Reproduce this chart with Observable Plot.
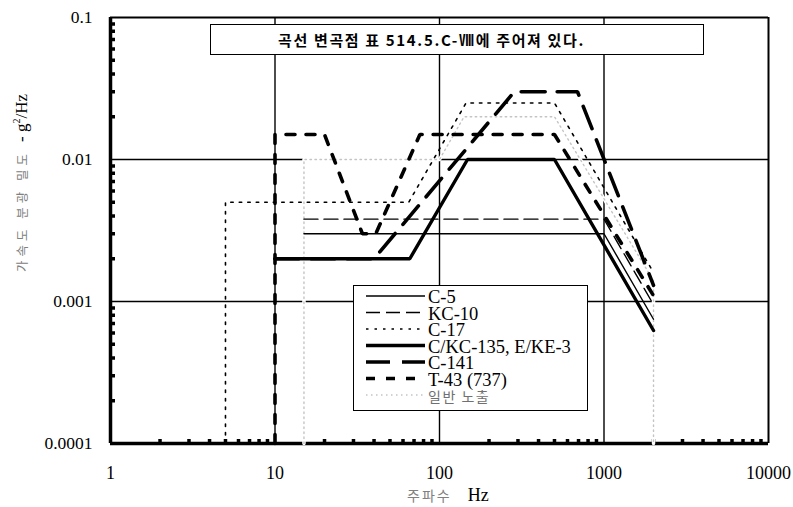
<!DOCTYPE html>
<html>
<head>
<meta charset="utf-8">
<script src="https://cdn.jsdelivr.net/npm/d3@7"></script>
<script src="https://cdn.jsdelivr.net/npm/@observablehq/plot@0.6"></script>
<style>
  body { margin: 0; background: #fff; }
  #wrap { position: relative; width: 793px; height: 507px; overflow: hidden; background: #fff; }
  #note {
    position: absolute; left: 210px; top: 24px; width: 494px; height: 31px;
    border: 1.5px solid #000; background: #fff;
    font-family: "Noto Sans CJK KR", sans-serif; font-weight: 700; font-size: 15px;
    line-height: 30px; padding-left: 67px; box-sizing: border-box; letter-spacing: 1.65px;
    white-space: nowrap;
  }
  #legend {
    position: absolute; left: 353px; top: 285px; width: 235px; height: 126px;
    border: 1.5px solid #000; background: #fff; box-sizing: border-box;
  }
</style>
</head>
<body>
<div id="wrap"></div>
<script>
// Axis ticks and labels
const xTicks = [1, 10, 100, 1000, 10000];
const yTicks = [0.0001, 0.001, 0.01, 0.1];
const xGrid = [10, 100, 1000];
const yGrid = [0.001, 0.01];

// Breakpoints of each vibration spectrum (frequency in Hz, PSD in g²/Hz)
const c5Hz = [15, 1000, 2000];
const c5Psd = [0.003, 0.003, 0.00075];

const kc10Hz = [15, 1000, 2000];
const kc10Psd = [0.0038, 0.0038, 0.00095];

const c17Hz = [5, 5, 65, 145, 500, 2000];
const c17Psd = [0.0001, 0.005, 0.005, 0.025, 0.025, 0.0016];

const kc135Hz = [10, 66, 148, 500, 2000];
const kc135Psd = [0.002, 0.002, 0.01, 0.01, 0.000625];

const c141Hz = [10, 40, 285, 690, 2000];
const c141Psd = [0.002, 0.002, 0.03, 0.03, 0.0013];

const t43Hz = [10, 10, 20, 34, 41, 76, 500, 2000];
const t43Psd = [0.0001, 0.015, 0.015, 0.003, 0.003, 0.015, 0.015, 0.0011];

const generalHz = [15, 15, 100, 141, 500, 2000, 2000];
const generalPsd = [0.0001, 0.01, 0.01, 0.02, 0.02, 0.0014, 0.0001];

const seriesNames = ["C-5", "KC-10", "C-17", "C/KC-135, E/KE-3", "C-141", "T-43 (737)", "일반 노출"];

const toRows = (hz, psd) => hz.map((f, i) => ({f, p: psd[i]}));

// Line styles per series
const styles = {
  "C-5":              {stroke: "#000", strokeWidth: 1.4},
  "KC-10":            {stroke: "#000", strokeWidth: 1.4, strokeDasharray: "14,6"},
  "C-17":             {stroke: "#000", strokeWidth: 1.6, strokeDasharray: "2.5,6"},
  "C/KC-135, E/KE-3": {stroke: "#000", strokeWidth: 3.4},
  "C-141":            {stroke: "#000", strokeWidth: 3.6, strokeDasharray: "24,12"},
  "T-43 (737)":       {stroke: "#000", strokeWidth: 3.6, strokeDasharray: "9,11"},
  "일반 노출":          {stroke: "#c4c4c4", strokeWidth: 1.4, strokeDasharray: "1.5,3.5"}
};

const seriesRows = {
  "C-5": toRows(c5Hz, c5Psd),
  "KC-10": toRows(kc10Hz, kc10Psd),
  "C-17": toRows(c17Hz, c17Psd),
  "C/KC-135, E/KE-3": toRows(kc135Hz, kc135Psd),
  "C-141": toRows(c141Hz, c141Psd),
  "T-43 (737)": toRows(t43Hz, t43Psd),
  "일반 노출": toRows(generalHz, generalPsd)
};

// Minor tick positions (2..9 within each decade)
const minorX = [1, 10, 100, 1000].flatMap(d => [2,3,4,5,6,7,8,9].map(k => k * d));
const minorY = [0.0001, 0.001, 0.01].flatMap(d => [2,3,4,5,6,7,8,9].map(k => +(k * d).toPrecision(3)));

const serif = "'Liberation Serif', 'Times New Roman', serif";

const W = 793, H = 507, mL = 110, mR = 25, mT = 17, mB = 64;
const frameW = W - mL - mR, frameH = H - mT - mB;

const chart = Plot.plot({
  width: W,
  height: H,
  marginLeft: mL,
  marginRight: mR,
  marginTop: mT,
  marginBottom: mB,
  x: {type: "log", domain: [1, 10000]},
  y: {type: "log", domain: [0.0001, 0.1]},
  style: {fontFamily: serif, background: "#fff", color: "#000"},
  marks: [
    // major grid
    Plot.ruleX(xGrid, {stroke: "#000", strokeWidth: 1.4}),
    Plot.ruleY(yGrid, {stroke: "#000", strokeWidth: 1.4}),
    // frame
    Plot.ruleY([0.1], {stroke: "#000", strokeWidth: 2}),
    Plot.ruleX([10000], {stroke: "#000", strokeWidth: 2}),
    Plot.ruleX([1], {stroke: "#000", strokeWidth: 3.5}),
    Plot.ruleY([0.0001], {stroke: "#000", strokeWidth: 3.5}),
    // short minor ticks pointing into the plot
    Plot.tickX(minorX, {x: d => d, insetTop: frameH - 4, stroke: "#000", strokeWidth: 3.5}),
    Plot.tickY(minorY, {y: d => d, insetRight: frameW - 5, stroke: "#000", strokeWidth: 3.5}),
    // tick labels
    Plot.axisX(xTicks, {anchor: "bottom", tickSize: 0, tickPadding: 23, fontSize: 18, tickFormat: d => String(d), label: null}),
    Plot.axisY(yTicks, {anchor: "left", tickSize: 0, tickPadding: 18, fontSize: 17.5, tickFormat: d => String(d), label: null}),
    // general exposure: white band masking lines below, with faint dots on top
    Plot.line(seriesRows["일반 노출"], {x: "f", y: "p", stroke: "#fff", strokeWidth: 3.5}),
    Plot.line(seriesRows["일반 노출"], {x: "f", y: "p", ...styles["일반 노출"]}),
    // aircraft spectra
    ...seriesNames.slice(0, 6).map(name =>
      Plot.line(seriesRows[name], {x: "f", y: "p", ...styles[name], strokeLinejoin: "miter"})
    )
  ]
});

const wrap = document.getElementById("wrap");
wrap.appendChild(chart);

const svg = d3.select(chart);

// Y axis title
const yTitle = svg.append("text")
  .attr("transform", "translate(27,183) rotate(-90)")
  .attr("text-anchor", "middle");
yTitle.append("tspan")
  .attr("font-family", "'Noto Sans CJK KR', sans-serif")
  .attr("font-size", 12.5).attr("fill", "#808080").attr("letter-spacing", 4)
  .text("가속도 분광 밀도");
yTitle.append("tspan").attr("font-family", serif).attr("font-size", 17).attr("fill", "#000")
  .attr("dx", 8).text("- g");
yTitle.append("tspan").attr("font-family", serif).attr("font-size", 10).attr("fill", "#000")
  .attr("dy", -7).text("2");
yTitle.append("tspan").attr("font-family", serif).attr("font-size", 17).attr("fill", "#000")
  .attr("dy", 7).text("/Hz");

// X axis title
const xTitle = svg.append("text").attr("x", 407).attr("y", 501).attr("text-anchor", "start");
xTitle.append("tspan")
  .attr("font-family", "'Noto Sans CJK KR', sans-serif")
  .attr("font-size", 14).attr("fill", "#808080").attr("letter-spacing", 2)
  .text("주파수");
xTitle.append("tspan").attr("font-family", serif).attr("font-size", 18).attr("fill", "#000")
  .attr("dx", 16).text("Hz");

// Note box
const note = document.createElement("div");
note.id = "note";
note.textContent = "곡선 변곡점 표 514.5.C-Ⅷ에 주어져 있다.";
wrap.appendChild(note);

// Legend
const legend = document.createElement("div");
legend.id = "legend";
wrap.appendChild(legend);
const lg = d3.select(legend).append("svg").attr("width", 235).attr("height", 126)
  .style("position", "absolute").style("left", "-1.5px").style("top", "-1.5px");
seriesNames.forEach((name, i) => {
  const base = 18 + i * 16.5;
  const st = styles[name];
  lg.append("line")
    .attr("x1", 13).attr("x2", 72).attr("y1", base - 7).attr("y2", base - 7)
    .attr("stroke", st.stroke).attr("stroke-width", st.strokeWidth)
    .attr("stroke-dasharray", st.strokeDasharray || null);
  const t = lg.append("text").attr("x", 75).attr("y", base).text(name);
  if (name === "일반 노출") {
    t.attr("font-family", "'Noto Sans CJK KR', sans-serif").attr("font-size", 14)
      .attr("fill", "#707070").attr("letter-spacing", 1.5);
  } else {
    t.attr("font-family", serif).attr("font-size", 18.5).attr("fill", "#000");
  }
});
</script>
</body>
</html>
